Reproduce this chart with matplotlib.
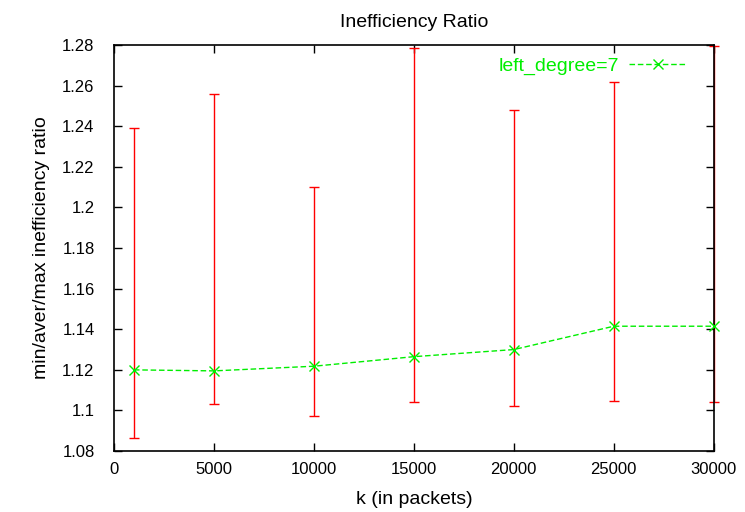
import matplotlib
matplotlib.use("Agg")
import matplotlib.pyplot as plt
from matplotlib.lines import Line2D

plt.rcParams['font.family'] = ['Liberation Sans', 'DejaVu Sans']

# donnees
k_values = [1000, 5000, 10000, 15000, 20000, 25000, 30000]
aver_ratio = [1.1200, 1.1195, 1.1218, 1.1265, 1.1300, 1.1415, 1.1415]
min_ratio = [1.0864, 1.1032, 1.0972, 1.1041, 1.1022, 1.1048, 1.1041]
max_ratio = [1.2390, 1.2560, 1.2100, 1.2785, 1.2480, 1.2620, 1.2795]
x_ticks = [0, 5000, 10000, 15000, 20000, 25000, 30000]
y_ticks = [1.08, 1.1, 1.12, 1.14, 1.16, 1.18, 1.2, 1.22, 1.24, 1.26, 1.28]
y_tick_labels = ["1.08", "1.1", "1.12", "1.14", "1.16", "1.18", "1.2",
                 "1.22", "1.24", "1.26", "1.28"]

fig = plt.figure(figsize=(7.45, 5.12), dpi=100)
ax = fig.add_axes([0.153, 0.119, 0.805, 0.793])

err_low = [a - m for a, m in zip(aver_ratio, min_ratio)]
err_high = [m - a for a, m in zip(aver_ratio, max_ratio)]

# barres d'erreur min / max
ax.errorbar(k_values, aver_ratio, yerr=[err_low, err_high], fmt='none',
            ecolor='#ff0000', elinewidth=1.0, capsize=3.6, capthick=1.0,
            zorder=2, clip_on=False)

# moyenne
ax.plot(k_values, aver_ratio, color='#00ee00', linestyle=(0, (4, 2)),
        linewidth=1.0, marker='x', markersize=7, markeredgewidth=1.0,
        zorder=3, clip_on=False)

ax.set_xlim(0, 30000)
ax.set_ylim(1.08, 1.28)
ax.set_xticks(x_ticks)
ax.set_yticks(y_ticks)
ax.set_yticklabels(y_tick_labels)
ax.tick_params(direction='in', top=True, right=True, length=6,
               width=1.0, labelsize=12, pad=8)
ax.tick_params(axis='y', pad=14)
for spine in ax.spines.values():
    spine.set_linewidth(1.2)

ax.set_xlabel("k (in packets)", fontsize=14, labelpad=10)
ax.set_ylabel("min/aver/max inefficiency ratio", fontsize=14, labelpad=9)
ax.set_title("Inefficiency Ratio", fontsize=14, pad=13)

handle = Line2D([], [], color='#00ee00', linestyle=(0, (4, 2)),
                linewidth=1.0, marker='x', markersize=7)
leg = ax.legend([handle], ["left_degree=7"], loc='upper right',
                frameon=False, markerfirst=False, numpoints=1,
                handlelength=3.0, handletextpad=0.5, fontsize=14,
                bbox_to_anchor=(0.975, 1.0), borderaxespad=0.2)
for t in leg.get_texts():
    t.set_color('#00ee00')

plt.savefig("out.png", dpi=100)
